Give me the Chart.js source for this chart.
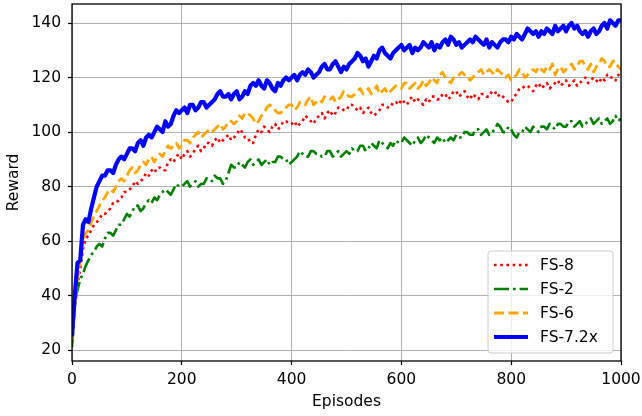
<!DOCTYPE html>
<html>
<head>
<meta charset="utf-8">
<script src="https://cdn.jsdelivr.net/npm/chart.js@4/dist/chart.umd.min.js"></script>
<style>
  html, body { margin: 0; padding: 0; background: #fff; }
  #wrap { width: 642px; height: 416px; }
</style>
</head>
<body>
<div id="wrap"><canvas id="myChart" width="642" height="416"></canvas></div>
<script>
// episodes 0..1000, one reading every 5 episodes
const episodes = Array.from({length: 201}, (_, i) => i * 5)

const fs8 = [
  23,35,44,50,57,61,62,64,66,67,68,70,70,71,72,74,74,75,76,78,
  78,79,80,82,81,82,83,85,84,86,85,87,87,86,86,89,90,89,91,92,
  90,92,93,91,92,94,95,93,94,96,96,95,97,98,96,97,98,99,97,98,
  99,101,100,98,98,96,96,99,101,100,102,101,100,102,103,101,102,104,104,103,
  103,104,102,103,104,106,105,104,103,105,106,107,105,107,108,106,107,109,109,108,
  108,110,110,109,108,109,107,108,109,107,106,107,108,110,110,109,109,111,111,110,
  112,111,110,112,113,111,112,111,110,112,111,113,113,112,112,114,114,112,113,115,
  115,113,114,115,113,112,114,113,112,114,114,113,113,115,115,113,114,113,112,111,
  111,113,114,116,116,117,117,116,115,117,118,116,117,118,116,117,118,119,117,118,
  119,117,118,119,117,118,119,120,118,119,120,119,118,120,119,121,121,119,119,121,
  120]

const fs2 = [
  21,38,42,46,48,51,53,55,56,58,59,58,61,63,63,62,64,66,66,68,
  70,69,71,73,73,71,72,74,75,74,76,75,77,78,79,78,77,79,81,80,
  80,81,82,80,81,82,80,81,81,83,83,82,84,83,83,81,82,85,88,87,
  87,89,88,87,89,90,88,89,90,88,89,90,88,89,89,91,91,90,90,88,
  89,90,91,93,92,91,91,93,93,92,92,91,91,93,93,91,92,93,91,92,
  93,92,94,93,93,95,95,93,94,96,95,94,97,96,95,94,96,95,97,96,
  96,98,97,96,95,97,98,96,97,99,98,97,96,98,97,98,96,97,98,97,
  99,98,98,100,100,99,99,101,101,99,100,101,99,100,101,103,102,100,100,102,
  101,99,98,100,100,102,101,100,102,101,100,102,102,101,103,102,101,103,103,102,
  102,104,104,102,103,104,102,103,104,105,103,104,105,103,104,105,103,104,106,104,
  105]

const fs6 = [
  24,36,46,52,60,63,64,67,69,71,73,75,76,78,79,78,80,82,83,82,
  84,86,87,85,86,88,89,88,90,91,89,91,92,91,93,95,94,95,96,94,
  95,97,97,96,98,99,100,98,99,100,101,100,101,102,103,101,102,104,104,103,
  104,106,105,107,107,106,105,103,104,106,107,109,110,109,108,107,107,108,109,110,
  110,108,109,111,111,110,112,113,110,111,112,111,113,112,112,113,111,112,113,115,
  114,113,113,114,115,116,114,115,116,114,115,117,114,115,116,114,115,116,117,116,
  116,118,118,116,117,118,116,117,119,117,118,120,119,118,121,122,120,119,118,120,
  120,121,122,121,121,119,120,121,122,123,121,122,123,122,121,123,122,121,120,121,
  119,120,121,123,122,120,121,122,123,122,124,123,122,124,123,125,121,123,124,122,
  123,124,125,123,124,126,126,124,123,125,122,124,125,127,126,124,124,126,126,124,
  123]

const fs72x = [
  25,40,52,53,66,68,67,72,76,80,82,84,84,86,86,85,88,90,91,90,
  92,94,94,93,96,97,95,98,99,98,100,102,101,100,104,102,103,106,108,107,
  108,109,107,110,110,108,109,111,111,109,110,111,112,114,115,113,113,114,112,114,
  115,112,113,115,114,117,118,117,119,117,116,119,118,116,115,118,117,119,120,119,
  120,121,119,121,122,121,123,122,120,121,122,124,125,123,123,125,126,124,122,124,
  123,125,126,127,129,128,126,127,124,126,128,127,130,131,129,128,127,129,130,131,
  132,130,131,132,129,131,130,131,133,132,131,133,130,132,131,133,134,132,135,134,
  132,133,131,132,133,134,133,135,134,133,132,134,131,133,132,131,133,134,134,133,
  135,134,136,135,134,136,138,137,136,137,135,137,136,138,137,136,139,137,138,139,
  137,139,140,138,139,137,136,137,135,137,138,136,137,139,140,138,141,140,139,141,
  141]

const seriesNames = ['FS-8', 'FS-2', 'FS-6', 'FS-7.2x']
const seriesData = [fs8, fs2, fs6, fs72x]
const xTicks = [0, 200, 400, 600, 800, 1000]
const yTicks = [20, 40, 60, 80, 100, 120, 140]

const FONT = 'DejaVu Sans'
const styles = [
  {color: '#ff0000', width: 2.6, dash: [2.6, 3.6]},
  {color: '#008000', width: 2.6, dash: [15, 4, 2.6, 4]},
  {color: '#ffa500', width: 2.8, dash: [10, 4.5]},
  {color: '#0000ff', width: 4.2, dash: []}
]

// legend inside the plot, bottom right, plus black frame round the axes
const framePlugin = {
  id: 'frame',
  afterDatasetsDraw(chart){
    const {ctx, chartArea: a} = chart
    ctx.save()
    ctx.strokeStyle = '#000'
    ctx.lineWidth = 1.3
    ctx.strokeRect(a.left, a.top, a.right - a.left, a.bottom - a.top)

    // legend box
    const bx = 488, by = 251, bw = 125, bh = 102, r = 3
    ctx.beginPath()
    ctx.roundRect(bx, by, bw, bh, r)
    ctx.fillStyle = 'rgba(255,255,255,0.8)'
    ctx.fill()
    ctx.strokeStyle = '#cccccc'
    ctx.lineWidth = 1
    ctx.stroke()

    ctx.font = '15.5px "' + FONT + '"'
    ctx.textBaseline = 'middle'
    ctx.fillStyle = '#000'
    for(let i = 0; i < seriesNames.length; i++){
      const y = 265 + i * 24
      const s = styles[i]
      ctx.beginPath()
      ctx.setLineDash(s.dash)
      ctx.strokeStyle = s.color
      ctx.lineWidth = s.width
      ctx.moveTo(494, y)
      ctx.lineTo(528, y)
      ctx.stroke()
      ctx.setLineDash([])
      ctx.fillText(seriesNames[i], 540, y + 1)
    }
    ctx.restore()
  }
}

const datasets = seriesData.map((vals, i) => ({
  label: seriesNames[i],
  data: vals.map((v, j) => ({x: episodes[j], y: v})),
  borderColor: styles[i].color,
  borderWidth: styles[i].width,
  borderDash: styles[i].dash,
  borderJoinStyle: 'round',
  pointRadius: 0,
  fill: false,
  tension: 0,
  order: 3 - i
}))

new Chart(document.getElementById('myChart').getContext('2d'), {
  type: 'line',
  data: {datasets},
  options: {
    responsive: false,
    animation: false,
    parsing: false,
    layout: {padding: {top: 4, right: 21, bottom: 0, left: 0}},
    plugins: {legend: {display: false}, tooltip: {enabled: false}},
    scales: {
      x: {
        type: 'linear', min: 0, max: 1000,
        afterFit(scale){
          scale.height = 55
          scale.paddingLeft = 0
          scale.paddingRight = 0
        },
        afterBuildTicks(scale){ scale.ticks = xTicks.map(v => ({value: v})) },
        ticks: {color: '#000', padding: 6, maxRotation: 0, autoSkip: false,
          callback: v => String(v),
          font: {family: FONT, size: 15.5}},
        grid: {color: '#b0b0b0', lineWidth: 1, tickColor: '#000', tickLength: 4, tickWidth: 1.2},
        border: {display: false},
        title: {display: true, text: 'Episodes', color: '#000', padding: {top: 0, bottom: 5},
          font: {family: FONT, size: 15.5}}
      },
      y: {
        min: 16, max: 147,
        afterFit(scale){
          scale.width = 72
          scale.paddingTop = 0
          scale.paddingBottom = 0
        },
        afterBuildTicks(scale){ scale.ticks = yTicks.map(v => ({value: v})) },
        ticks: {color: '#000', padding: 7, font: {family: FONT, size: 15.5}},
        grid: {color: '#b0b0b0', lineWidth: 1, tickColor: '#000', tickLength: 4, tickWidth: 1.2},
        border: {display: false},
        title: {display: true, text: 'Reward', color: '#000', padding: {top: 5, bottom: 0},
          font: {family: FONT, size: 15.5}}
      }
    }
  },
  plugins: [framePlugin]
})
</script>
</body>
</html>
